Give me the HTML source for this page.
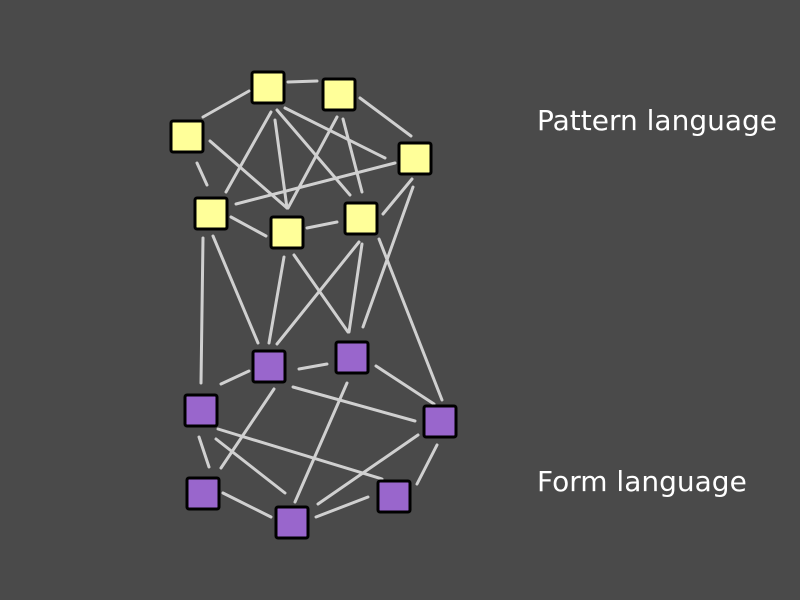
<!DOCTYPE html>
<html><head><style>body{margin:0;background:#4a4a4a;}svg{display:block}</style></head><body>
<svg width="800" height="600" viewBox="0 0 800 600">
<rect width="800" height="600" fill="#4a4a4a"/>
<g stroke="#d0d0d0" stroke-width="3" stroke-linecap="round">
<line x1="288" y1="82" x2="317" y2="81"/>
<line x1="249" y1="91" x2="203" y2="117"/>
<line x1="360" y1="98" x2="411" y2="136"/>
<line x1="271" y1="112" x2="226" y2="192"/>
<line x1="275" y1="120" x2="287" y2="208"/>
<line x1="277" y1="110" x2="350" y2="195"/>
<line x1="285" y1="108" x2="385" y2="158"/>
<line x1="337" y1="117" x2="288" y2="208"/>
<line x1="343" y1="119" x2="362" y2="192"/>
<line x1="197" y1="163" x2="207" y2="185"/>
<line x1="210" y1="141" x2="287" y2="208"/>
<line x1="395" y1="163" x2="236" y2="204"/>
<line x1="412" y1="179" x2="383" y2="214"/>
<line x1="231" y1="217" x2="266" y2="236"/>
<line x1="307" y1="228" x2="337" y2="222"/>
<line x1="413" y1="187" x2="363" y2="327"/>
<line x1="203" y1="238" x2="201" y2="383"/>
<line x1="213" y1="236" x2="258" y2="343"/>
<line x1="284" y1="257" x2="269" y2="343"/>
<line x1="294" y1="255" x2="348" y2="332"/>
<line x1="359" y1="242" x2="277" y2="344"/>
<line x1="362" y1="244" x2="349" y2="332"/>
<line x1="379" y1="239" x2="442" y2="400"/>
<line x1="249" y1="371" x2="221" y2="384"/>
<line x1="299" y1="369" x2="327" y2="364"/>
<line x1="293" y1="387" x2="415" y2="421"/>
<line x1="274" y1="389" x2="221" y2="468"/>
<line x1="376" y1="366" x2="434" y2="404"/>
<line x1="347" y1="383" x2="295" y2="502"/>
<line x1="199" y1="437" x2="209" y2="467"/>
<line x1="216" y1="439" x2="285" y2="493"/>
<line x1="218" y1="429" x2="382" y2="479"/>
<line x1="418" y1="435" x2="318" y2="504"/>
<line x1="437" y1="445" x2="417" y2="484"/>
<line x1="223" y1="493" x2="271" y2="517"/>
<line x1="368" y1="497" x2="316" y2="517"/>
</g>
<g stroke="#000" stroke-width="3" fill="#ffff99">
<rect x="252" y="72" width="32" height="31" rx="2"/>
<rect x="323" y="79" width="32" height="31" rx="2"/>
<rect x="171" y="121" width="32" height="31" rx="2"/>
<rect x="399" y="143" width="32" height="31" rx="2"/>
<rect x="195" y="198" width="32" height="31" rx="2"/>
<rect x="271" y="217" width="32" height="31" rx="2"/>
<rect x="345" y="203" width="32" height="31" rx="2"/>
</g>
<g stroke="#000" stroke-width="3" fill="#9966cc">
<rect x="253" y="351" width="32" height="31" rx="2"/>
<rect x="336" y="342" width="32" height="31" rx="2"/>
<rect x="185" y="395" width="32" height="31" rx="2"/>
<rect x="424" y="406" width="32" height="31" rx="2"/>
<rect x="187" y="478" width="32" height="31" rx="2"/>
<rect x="378" y="481" width="32" height="31" rx="2"/>
<rect x="276" y="507" width="32" height="31" rx="2"/>
</g>
<g fill="#fff" font-family="DejaVu Sans, sans-serif" font-size="28">
<text x="537" y="130">Pattern language</text>
<text x="537" y="491">Form language</text>
</g>
</svg>
</body></html>
